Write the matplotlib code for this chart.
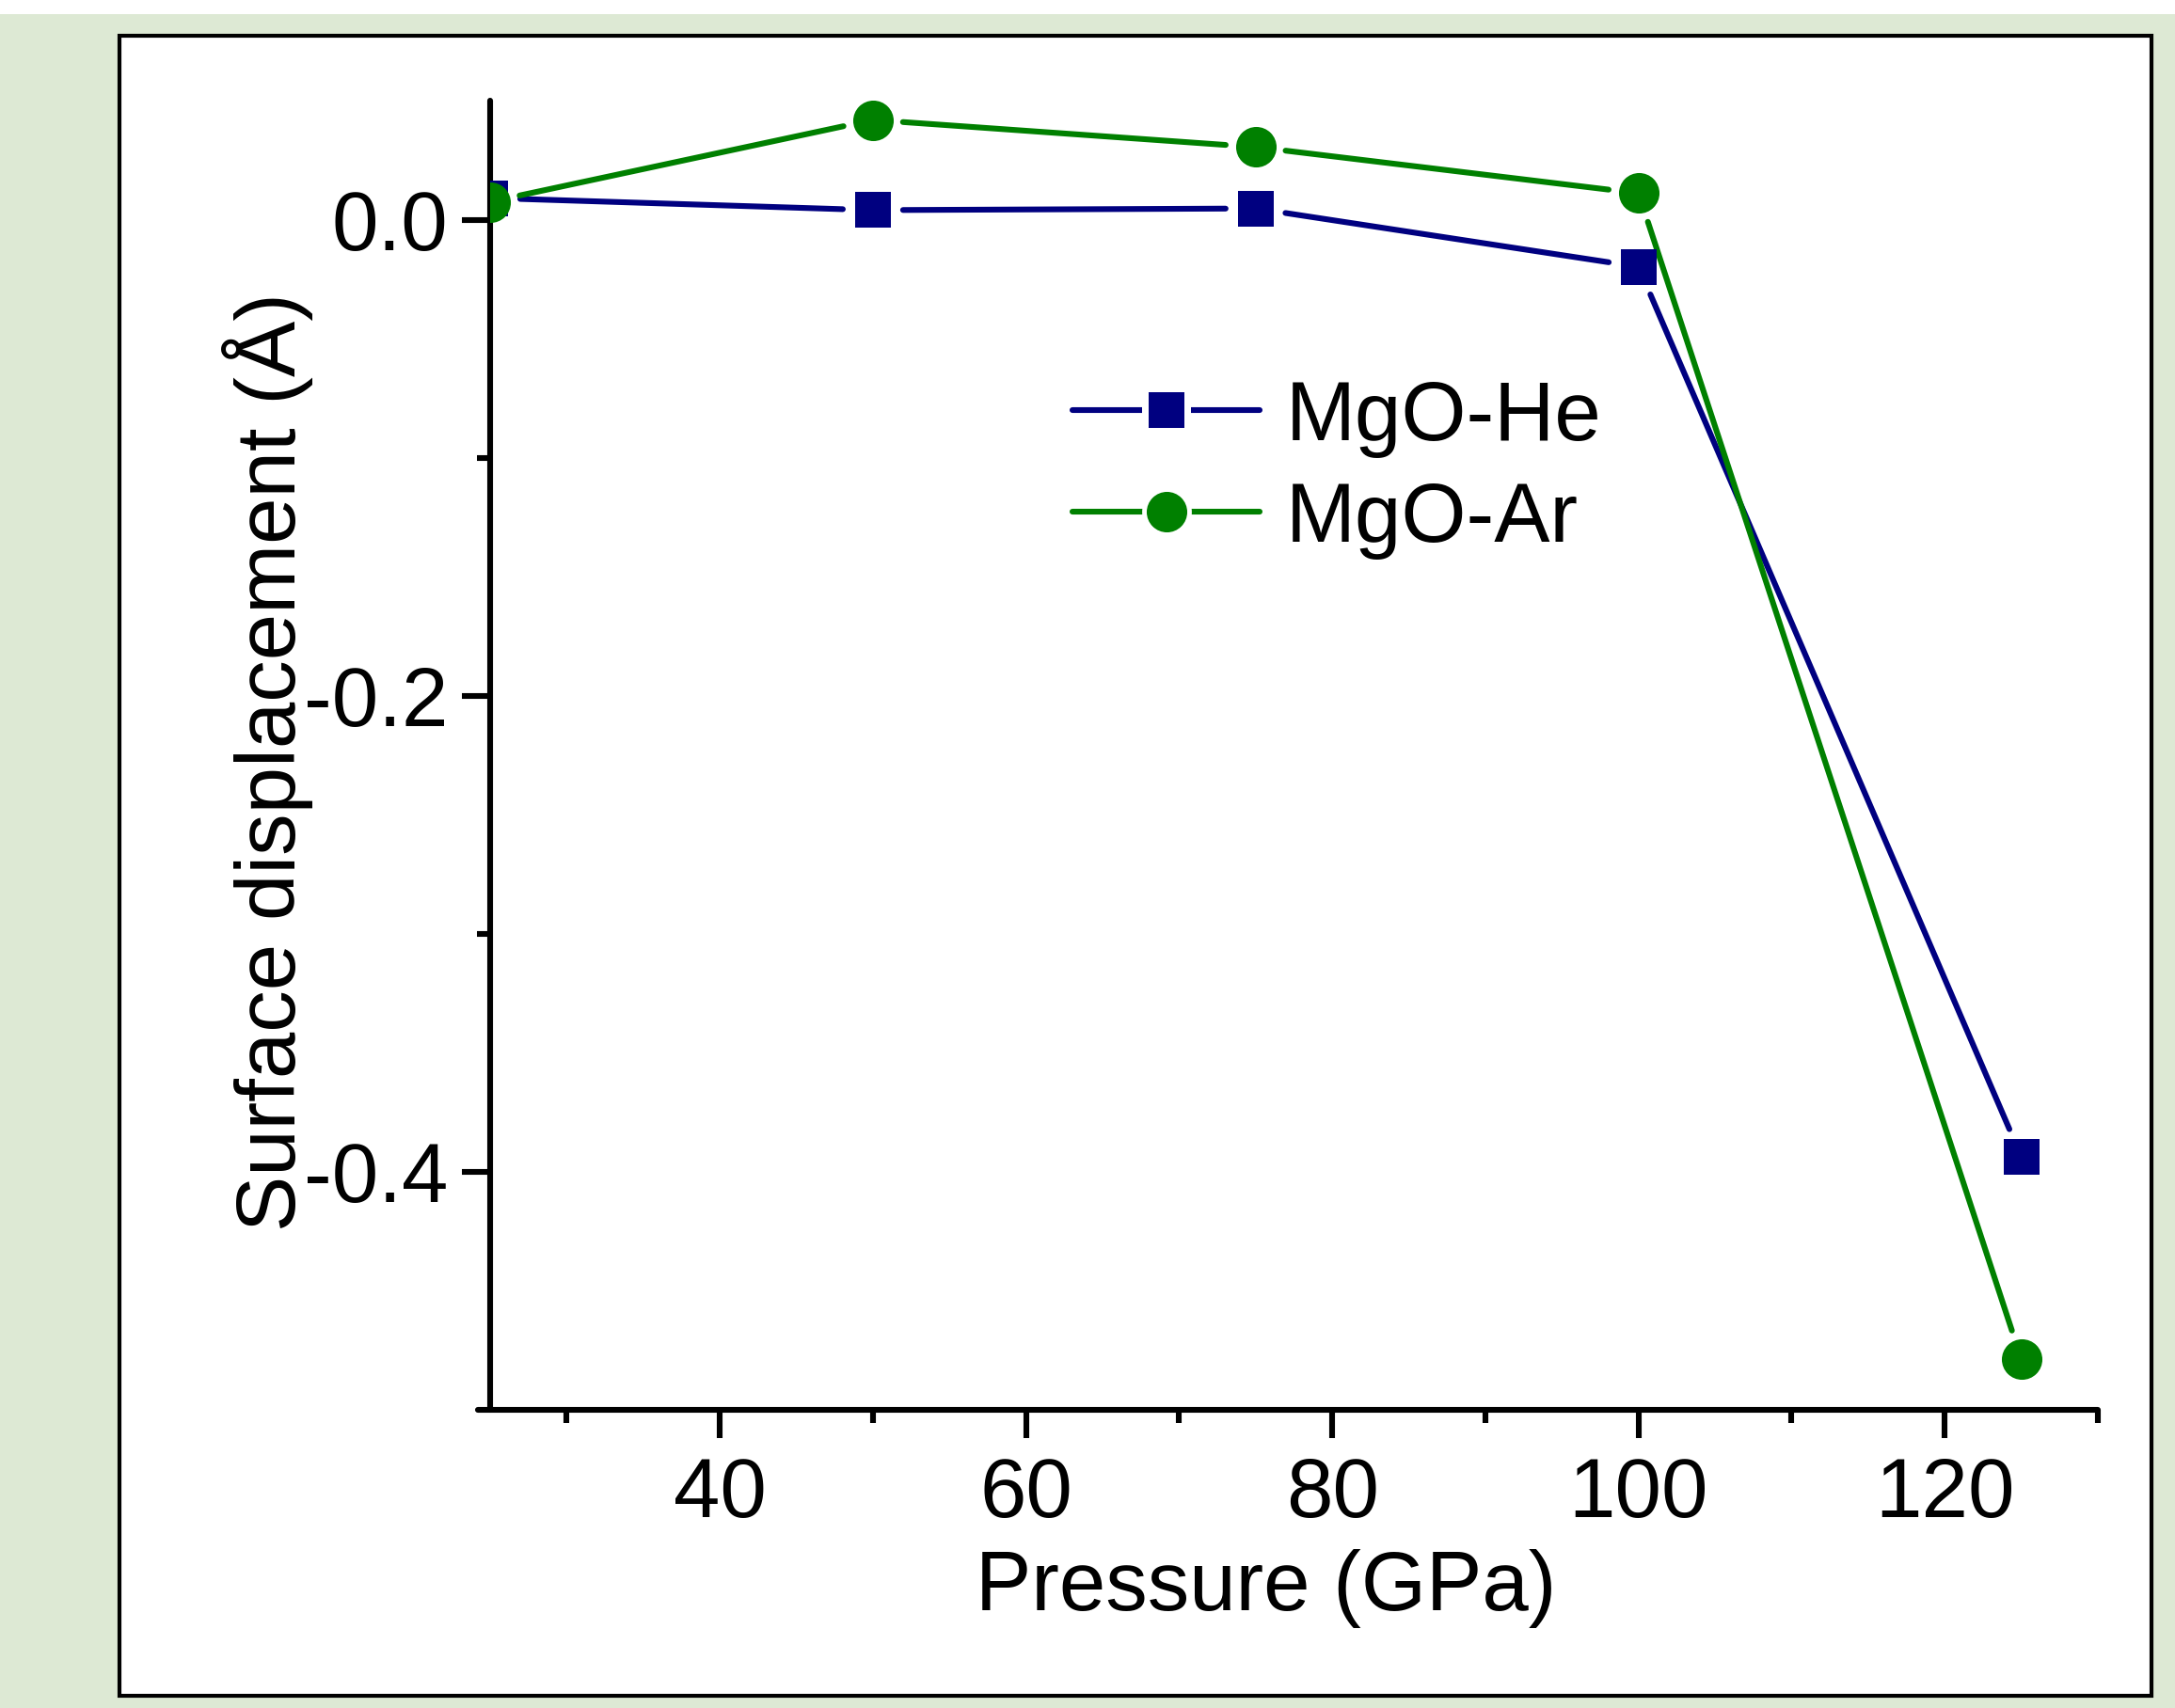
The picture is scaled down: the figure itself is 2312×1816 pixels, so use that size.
import numpy as np
import matplotlib

matplotlib.use("Agg")
import matplotlib.pyplot as plt
from matplotlib.patches import Rectangle
from matplotlib.lines import Line2D
from matplotlib.legend_handler import HandlerTuple

plt.rcParams.update({"font.family": "Liberation Sans", "axes.unicode_minus": False})

# data
pressure = [25, 50, 75, 100, 125]
mgo_he = [0.0091, 0.0040, 0.0047, -0.0198, -0.3937]
mgo_ar = [0.0075, 0.0419, 0.0305, 0.0111, -0.4787]
x_major = [40, 60, 80, 100, 120]
x_minor = [30, 50, 70, 90, 110, 130]
y_major = [0.0, -0.2, -0.4]
y_minor = [-0.1, -0.3]

NAVY = "#000080"
GREEN = "#008000"
W, H, DPI = 2312, 1816, 200
FS = 32
LW = 2.2

fig = plt.figure(figsize=(W / DPI, H / DPI), dpi=DPI, facecolor="#dde9d4")
fig.patches.append(Rectangle((0, 1 - 15 / H), 1, 15 / H, transform=fig.transFigure,
                             facecolor="white", lw=0, zorder=-10))
fig.patches.append(Rectangle((127 / W, 1 - 1803 / H), (2287 - 127) / W, (1803 - 38) / H,
                             transform=fig.transFigure, facecolor="white",
                             edgecolor="black", lw=1.5, zorder=-10))

ax = fig.add_axes([521 / W, 1 - 1499 / H, (2230 - 521) / W, (1499 - 107) / H])
ax.set_facecolor("none")
ax.set_xlim(25, 130)
ax.set_ylim(-0.5, 0.05)


def gapped(x, y, gap_px, **kw):
    """Origin-style line: each segment stops short of the markers."""
    pts = ax.transData.transform(np.column_stack([x, y]))
    inv = ax.transData.inverted()
    for p, q in zip(pts[:-1], pts[1:]):
        u = (q - p) / np.hypot(*(q - p))
        seg = inv.transform([p + u * gap_px, q - u * gap_px])
        ax.plot(seg[:, 0], seg[:, 1], solid_capstyle="round", **kw)


gapped(pressure, mgo_he, 32, color=NAVY, lw=LW, zorder=2)
gapped(pressure, mgo_ar, 32, color=GREEN, lw=LW, zorder=2)
ax.plot(pressure, mgo_he, ls="none", marker="s", ms=13.7, mew=0, color=NAVY, zorder=3)
ax.plot(pressure, mgo_ar, ls="none", marker="o", ms=15.5, mew=0, color=GREEN, zorder=4)

for s in ("top", "right"):
    ax.spines[s].set_visible(False)
for s in ("left", "bottom"):
    ax.spines[s].set_linewidth(LW)
    ax.spines[s].set_capstyle("round")
ax.spines["bottom"].set_bounds(24.2, 130)

ax.set_xticks(x_major)
ax.set_xticks(x_minor, minor=True)
ax.set_yticks(y_major)
ax.set_yticklabels([f"{v:.1f}" for v in y_major])
ax.set_yticks(y_minor, minor=True)
ax.tick_params(which="both", direction="out", width=LW, labelsize=FS)
ax.tick_params(which="major", length=10.8)
ax.tick_params(which="minor", length=5.2)
ax.tick_params(axis="x", which="major", pad=7)
ax.tick_params(axis="y", which="major", pad=5.2)

ax.set_xlabel("Pressure (GPa)", fontsize=FS)
ax.xaxis.set_label_coords(0.4827, -0.1066)
ax.set_ylabel("Surface displacement (Å)", fontsize=FS)
ax.yaxis.set_label_coords(-0.110, 0.495)

# legend entries: line, white halo (the gap), marker, all drawn in one box
def entry(color, marker, ms):
    return (Line2D([], [], color=color, lw=LW, solid_capstyle="round"),
            Line2D([], [], ls="none", marker=marker, ms=19, mew=0, color="white"),
            Line2D([], [], ls="none", marker=marker, ms=ms, mew=0, color=color))


ax.legend([entry(NAVY, "s", 13.7), entry(GREEN, "o", 15.5)], ["MgO-He", "MgO-Ar"],
          handler_map={tuple: HandlerTuple(ndivide=1, pad=0)}, numpoints=1,
          fontsize=FS, frameon=False, handlelength=2.24, handletextpad=0.31,
          labelspacing=0.27, borderpad=0, borderaxespad=0, loc="center left",
          bbox_to_anchor=(1140 / W, 1 - 498.5 / H), bbox_transform=fig.transFigure)

fig.savefig("out.png", dpi=DPI, facecolor=fig.get_facecolor())
